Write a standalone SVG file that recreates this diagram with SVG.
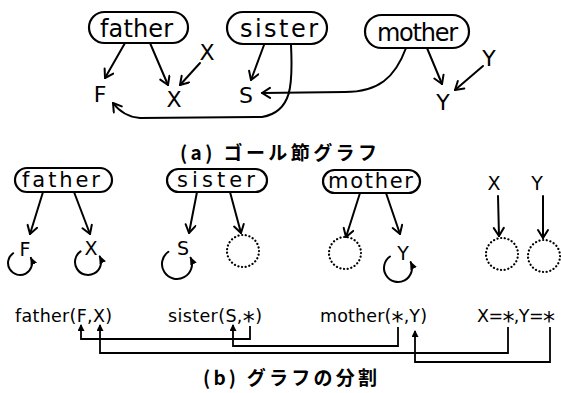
<svg xmlns="http://www.w3.org/2000/svg" width="561" height="393" viewBox="0 0 561 393">
  <style>
    .bg { fill: #ffffff; }
    .pill { fill: none; stroke: #000; stroke-width: 2.2; }
    .lbl { font-family: "DejaVu Sans", "Liberation Sans", sans-serif; fill: #000; }
    .big { font-size: 24px; }
    .mid { font-size: 21px; }
    .var { font-size: 22px; text-anchor: middle; }
    .var2 { font-size: 19px; text-anchor: middle; }
    .term { font-size: 17.5px; }
    .ast { font-size: 24px; }
    .cap { font-family: "Noto Sans CJK JP", "Noto Sans", sans-serif; font-weight: bold; font-size: 19px; fill: #000; }
    .edge { fill: none; stroke: #000; stroke-width: 2; stroke-linecap: round; }
    .link { fill: none; stroke: #000; stroke-width: 1.8; }
    .hole { fill: none; stroke: #000; stroke-width: 2.2; stroke-dasharray: 0.1 3.6; stroke-linecap: round; }
  </style>
  <defs>
    <marker id="vee" markerUnits="userSpaceOnUse" markerWidth="14" markerHeight="14" refX="10" refY="6" orient="auto">
      <path d="M2,1 L10,6 L2,11" fill="none" stroke="#000" stroke-width="2" stroke-linecap="round" stroke-linejoin="round"/>
    </marker>
    <marker id="tri" markerUnits="userSpaceOnUse" markerWidth="10" markerHeight="10" refX="7" refY="4" orient="auto">
      <path d="M0,0.5 L8,4 L0,7.5 z" fill="#000"/>
    </marker>
    <marker id="up" markerUnits="userSpaceOnUse" markerWidth="10" markerHeight="10" refX="6" refY="3.5" orient="auto">
      <path d="M0,0 L7,3.5 L0,7 z" fill="#000"/>
    </marker>
  </defs>
  <rect class="bg" x="0" y="0" width="561" height="393"/>

  <!-- (a) goal clause graph -->
  <g id="a-father">
    <rect class="pill" x="89" y="12" width="99" height="31" rx="15.5"/>
    <text class="lbl big" x="100" y="37" textLength="73" lengthAdjust="spacing">father</text>
  </g>
  <g id="a-sister">
    <rect class="pill" x="227" y="12" width="100" height="32" rx="16"/>
    <text class="lbl big" x="240" y="37" textLength="78" lengthAdjust="spacing">sister</text>
  </g>
  <g id="a-mother">
    <rect class="pill" x="365" y="15" width="104" height="33" rx="16.5"/>
    <text class="lbl big" x="377" y="41" textLength="81" lengthAdjust="spacing">mother</text>
  </g>
  <g id="a-F"><text class="lbl var" x="100" y="102">F</text></g>
  <g id="a-X"><text class="lbl var" x="174" y="107">X</text></g>
  <g id="a-Xin"><text class="lbl var" x="207" y="60">X</text></g>
  <g id="a-S"><text class="lbl var" x="246" y="103">S</text></g>
  <g id="a-Y"><text class="lbl var" x="443" y="110">Y</text></g>
  <g id="a-Yin"><text class="lbl var" x="489" y="66">Y</text></g>

  <g id="a-edges">
    <path class="edge" d="M125,43 L105,78" marker-end="url(#vee)"/>
    <path class="edge" d="M150,43 L168,85" marker-end="url(#vee)"/>
    <path class="edge" d="M200,63 L180,85" marker-end="url(#vee)"/>
    <path class="edge" d="M264,45 L251,80" marker-end="url(#vee)"/>
    <path class="edge" d="M291,45 C293,85 292,112 262,117 L140,118 C127,117 119,111 113,103" marker-end="url(#vee)"/>
    <path class="edge" d="M406,48 C395,78 378,92 345,92 L262,93" marker-end="url(#vee)"/>
    <path class="edge" d="M427,48 L442,84" marker-end="url(#vee)"/>
    <path class="edge" d="M483,66 L455,90" marker-end="url(#vee)"/>
  </g>

  <text class="cap" x="180" y="160" textLength="197" lengthAdjust="spacing">(a) ゴール節グラフ</text>

  <!-- (b) graph partition -->
  <g id="b-father">
    <rect class="pill" x="15" y="168" width="97" height="24" rx="12"/>
    <text class="lbl mid" x="22" y="187" textLength="78" lengthAdjust="spacing">father</text>
  </g>
  <g id="b-sister">
    <rect class="pill" x="167" y="169" width="100" height="23" rx="11.5"/>
    <text class="lbl mid" x="177" y="187" textLength="78" lengthAdjust="spacing">sister</text>
  </g>
  <g id="b-mother">
    <rect class="pill" x="323" y="170" width="97" height="23" rx="11.5"/>
    <text class="lbl mid" x="328" y="188" textLength="85" lengthAdjust="spacing">mother</text>
  </g>
  <g id="b-F"><text class="lbl var2" x="25" y="256">F</text></g>
  <g id="b-X"><text class="lbl var2" x="91" y="255">X</text></g>
  <g id="b-S"><text class="lbl var2" x="183" y="255">S</text></g>
  <g id="b-Y"><text class="lbl var2" x="403" y="260">Y</text></g>
  <g id="b-Xin"><text class="lbl var2" x="494" y="190">X</text></g>
  <g id="b-Yin"><text class="lbl var2" x="537" y="190">Y</text></g>
  <g id="b-hole1"><circle class="hole" cx="243" cy="251" r="16"/></g>
  <g id="b-hole2"><circle class="hole" cx="345" cy="253" r="16"/></g>
  <g id="b-hole3"><circle class="hole" cx="502" cy="254" r="16"/></g>
  <g id="b-hole4"><circle class="hole" cx="544" cy="256" r="16"/></g>

  <g id="b-edges">
    <path class="edge" d="M43,192 L30,234" marker-end="url(#vee)"/>
    <path class="edge" d="M74,192 L90,234" marker-end="url(#vee)"/>
    <path class="edge" d="M197,192 L189,233" marker-end="url(#vee)"/>
    <path class="edge" d="M230,192 L241,233" marker-end="url(#vee)"/>
    <path class="edge" d="M360,193 L346,237" marker-end="url(#vee)"/>
    <path class="edge" d="M386,193 L400,234" marker-end="url(#vee)"/>
    <path class="edge" d="M498,196 L499,236" marker-end="url(#vee)"/>
    <path class="edge" d="M543,196 L543,238" marker-end="url(#vee)"/>
    <!-- self loops -->
    <path class="edge" d="M13.1,253.2 A12,12 0 1 0 30.9,257.9" marker-end="url(#tri)"/>
    <path class="edge" d="M80.5,251.4 A13,13 0 1 0 99.8,256.5" marker-end="url(#tri)"/>
    <path class="edge" d="M168.4,251.7 A15,15 0 1 0 190.6,257.7" marker-end="url(#tri)"/>
    <path class="edge" d="M390,256.5 A14,14 0 1 0 410.7,262.1" marker-end="url(#tri)"/>
  </g>

  <!-- clause terms -->
  <text class="lbl term" x="15" y="322" textLength="97" lengthAdjust="spacing">father(F,X)</text>
  <text class="lbl term" x="168" y="322" textLength="94" lengthAdjust="spacing">sister(S,<tspan class="ast" dy="7">*</tspan><tspan dy="-7">)</tspan></text>
  <text class="lbl term" x="320" y="322" textLength="107" lengthAdjust="spacing">mother(<tspan class="ast" dy="7">*</tspan><tspan dy="-7">,Y)</tspan></text>
  <text class="lbl term" x="477" y="322" textLength="78" lengthAdjust="spacing">X=<tspan class="ast" dy="7">*</tspan><tspan dy="-7">,Y=</tspan><tspan class="ast" dy="7">*</tspan></text>

  <g id="b-links">
    <path class="link" d="M250,326 L250,339 L81,339 L81,325" marker-end="url(#up)"/>
    <path class="link" d="M398,327 L398,346 L233,346 L233,325" marker-end="url(#up)"/>
    <path class="link" d="M508,327 L508,353 L100,353 L100,325" marker-end="url(#up)"/>
    <path class="link" d="M550,327 L550,362 L415,362 L415,331" marker-end="url(#up)"/>
  </g>

  <text class="cap" x="203" y="385" textLength="174" lengthAdjust="spacing">(b) グラフの分割</text>
</svg>
